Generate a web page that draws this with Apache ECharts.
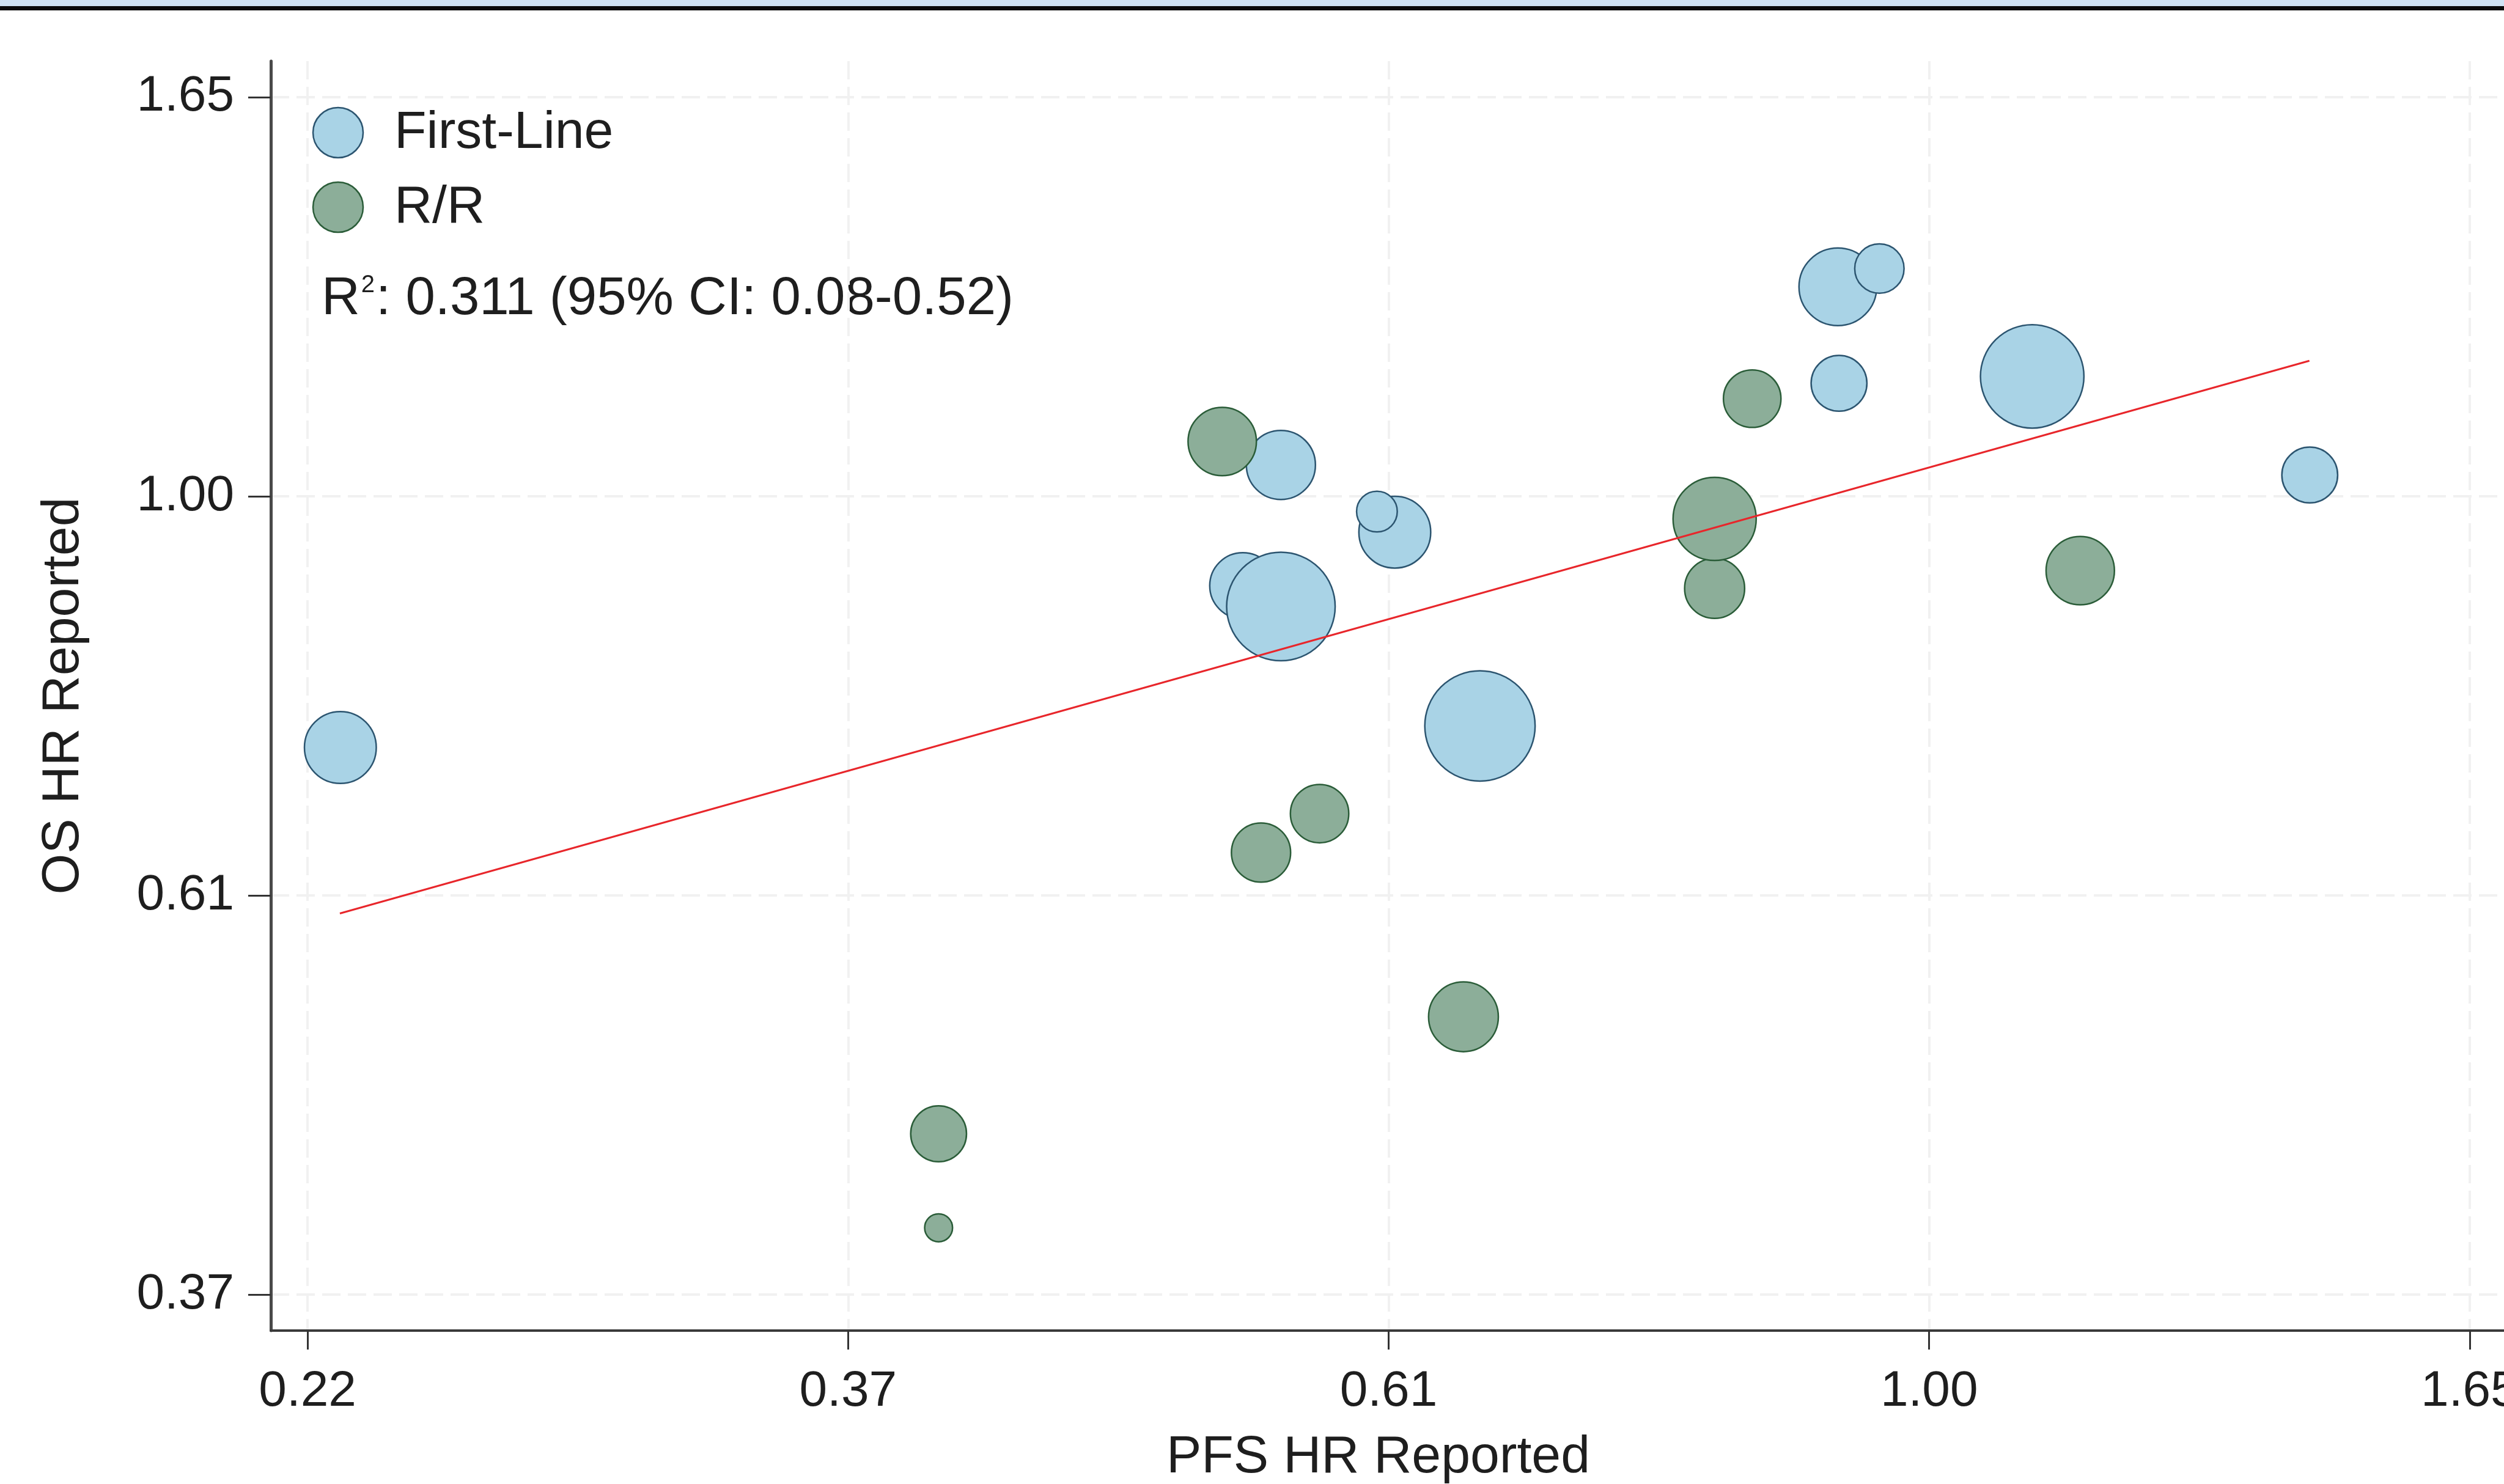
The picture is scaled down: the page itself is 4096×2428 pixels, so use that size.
<!DOCTYPE html>
<html>
<head>
<meta charset="utf-8">
<script src="https://cdn.jsdelivr.net/npm/echarts@6/dist/echarts.min.js"></script>
<style>html,body{margin:0;padding:0;background:#fff;}#c{width:4096px;height:2428px;}</style>
</head>
<body>
<div id="c"></div>
<script>
// ---- data (hazard ratios; axes are log scaled) ----
const firstLinePFS    = [0.230, 0.549, 0.610, 0.600, 0.530, 0.549, 0.660, 0.919, 0.955, 0.920, 1.100, 1.422];
const firstLineOS     = [0.730, 1.040, 0.956, 0.981, 0.894, 0.871, 0.750, 1.300, 1.330, 1.152, 1.162, 1.027];
const firstLineWeight = [53, 49, 53, 17, 45, 121, 125, 62, 25, 32, 110, 32];

const rrPFS    = [0.520, 0.820, 0.820, 0.849, 1.150, 0.569, 0.539, 0.650, 0.400, 0.400];
const rrOS     = [1.071, 0.891, 0.972, 1.130, 0.911, 0.672, 0.640, 0.521, 0.450, 0.400];
const rrWeight = [48, 37, 71, 34, 48, 35, 36, 50, 32, 8];

const regPFS = [0.2299, 1.4215];
const regOS  = [0.593, 1.185];

const tickLogs   = [-1.5, -1, -0.5, 0, 0.5];
const tickLabels = ['0.22', '0.37', '0.61', '1.00', '1.65'];

const seriesNames = ['First-Line', 'R/R'];
const r2Text = ': 0.311 (95% CI: 0.08-0.52)';

// ---- styles ----
const FONT = '"Liberation Sans", Arial, Helvetica, sans-serif';
const blueFill = '#a9d3e6', blueBorder = '#2c5570';
const greenFill = '#8cae99', greenBorder = '#2b5d39';
const textColor = '#1e1e1e';

const toPts = (xs, ys, ws) => xs.map((x, i) => [Math.log(x), Math.log(ys[i]), ws ? ws[i] : 0]);
const labelFor = v => {
  const i = tickLogs.findIndex(t => Math.abs(t - v) < 1e-6);
  return i >= 0 ? tickLabels[i] : '';
};
const sizeFn = d => 16.14 * Math.sqrt(d[2]);

const chart = echarts.init(document.getElementById('c'), null, {renderer: 'canvas', width: 4096, height: 2428});

const gridLine = {show: true, lineStyle: {color: '#f1f1f1', width: 4, type: [30, 12]}};

chart.setOption({
  animation: false,
  backgroundColor: '#ffffff',
  textStyle: {fontFamily: FONT},
  grid: {left: 443, top: 100, right: -4, bottom: 251, containLabel: false, outerBoundsMode: 'none'},
  xAxis: {
    type: 'value', min: -1.534, max: 0.534,
    name: 'PFS HR Reported', nameLocation: 'middle', nameGap: 165,
    nameTextStyle: {fontSize: 86, color: textColor, fontFamily: FONT, padding: [0, 34, 0, 0]},
    axisLine: {show: true, onZero: false, lineStyle: {color: '#3a3a3a', width: 4}},
    axisTick: {show: true, customValues: tickLogs, length: 31, lineStyle: {color: '#333', width: 3}},
    axisLabel: {show: true, customValues: tickLogs, formatter: labelFor, fontSize: 82, margin: 59, color: textColor, fontFamily: FONT},
    splitLine: gridLine
  },
  yAxis: {
    type: 'value', min: -1.045, max: 0.545,
    name: 'OS HR Reported', nameLocation: 'middle', nameGap: 296, nameRotate: 90,
    nameTextStyle: {fontSize: 86, color: textColor, fontFamily: FONT},
    axisLine: {show: true, onZero: false, lineStyle: {color: '#4a4a4a', width: 5}},
    axisTick: {show: true, customValues: tickLogs, length: 37, lineStyle: {color: '#333', width: 3}},
    axisLabel: {show: true, customValues: tickLogs, formatter: labelFor, fontSize: 82, margin: 60, color: textColor, fontFamily: FONT},
    splitLine: gridLine
  },
  series: [
    {
      name: seriesNames[0], type: 'scatter', z: 2,
      data: toPts(firstLinePFS, firstLineOS, firstLineWeight),
      symbol: 'circle', symbolSize: sizeFn,
      itemStyle: {color: blueFill, borderColor: blueBorder, borderWidth: 2.5, opacity: 1},
      emphasis: {disabled: true}
    },
    {
      name: seriesNames[1], type: 'scatter', z: 3,
      data: toPts(rrPFS, rrOS, rrWeight),
      symbol: 'circle', symbolSize: sizeFn,
      itemStyle: {color: greenFill, borderColor: greenBorder, borderWidth: 2.5, opacity: 1},
      emphasis: {disabled: true}
    },
    {
      name: 'Fit', type: 'line', z: 10,
      data: toPts(regPFS, regOS),
      symbol: 'none', silent: true,
      lineStyle: {color: '#e8262b', width: 3}
    }
  ],
  graphic: [
    {type: 'rect', shape: {x: 0, y: 0, width: 4096, height: 10}, style: {fill: '#cfe2f3'}, silent: true},
    {type: 'rect', shape: {x: 0, y: 10, width: 4096, height: 7}, style: {fill: '#0a0a0a'}, silent: true},
    {type: 'circle', shape: {cx: 553, cy: 217, r: 41}, style: {fill: blueFill, stroke: blueBorder, lineWidth: 2.5}, silent: true},
    {type: 'text', x: 645, y: 218, style: {text: seriesNames[0], fontSize: 86, fontFamily: FONT, fill: textColor, verticalAlign: 'middle', align: 'left'}, silent: true},
    {type: 'circle', shape: {cx: 553, cy: 339, r: 41}, style: {fill: greenFill, stroke: greenBorder, lineWidth: 2.5}, silent: true},
    {type: 'text', x: 645, y: 340, style: {text: seriesNames[1], fontSize: 86, fontFamily: FONT, fill: textColor, verticalAlign: 'middle', align: 'left'}, silent: true},
    {type: 'text', x: 526, y: 490, silent: true, style: {
      text: '{r|R}{s|2}{t|' + r2Text + '}',
      verticalAlign: 'middle', align: 'left', fill: textColor, fontFamily: FONT,
      rich: {
        r: {fontSize: 87, lineHeight: 87, fontFamily: FONT, fill: textColor},
        s: {fontSize: 40, lineHeight: 40, verticalAlign: 'top', fontFamily: FONT, fill: textColor, padding: [0, 2, 0, 2]},
        t: {fontSize: 87, lineHeight: 87, fontFamily: FONT, fill: textColor}
      }
    }}
  ]
});
</script>
</body>
</html>
